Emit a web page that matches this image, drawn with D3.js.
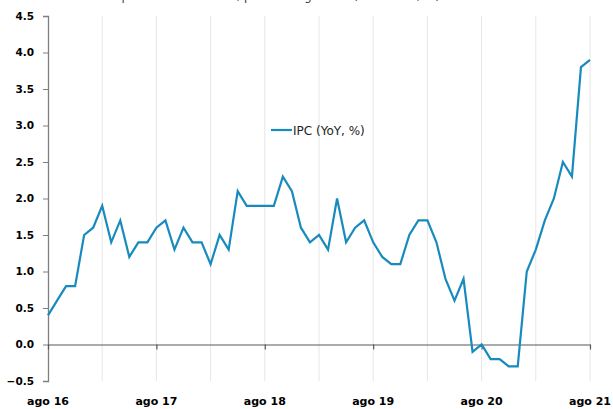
<!DOCTYPE html>
<html>
<head>
<meta charset="utf-8">
<script src="https://cdn.jsdelivr.net/npm/d3@7"></script>
<style>
  html, body { margin: 0; padding: 0; background: #ffffff; }
  svg { display: block; }
</style>
</head>
<body>
<div id="chart"></div>
<script>
// ---- data ----
const startMonth = "2016-08";
const ipcValues = [
  0.4, 0.6, 0.8, 0.8, 1.5, 1.6, 1.9, 1.4, 1.7, 1.2, 1.4, 1.4,
  1.6, 1.7, 1.3, 1.6, 1.4, 1.4, 1.1, 1.5, 1.3, 2.1, 1.9, 1.9,
  1.9, 1.9, 2.3, 2.1, 1.6, 1.4, 1.5, 1.3, 2.0, 1.4, 1.6, 1.7,
  1.4, 1.2, 1.1, 1.1, 1.5, 1.7, 1.7, 1.4, 0.9, 0.6, 0.9, -0.1,
  0.0, -0.2, -0.2, -0.3, -0.3, 1.0, 1.3, 1.7, 2.0, 2.5, 2.3, 3.8,
  3.9
];
const xTickLabels = ["ago 16", "ago 17", "ago 18", "ago 19", "ago 20", "ago 21"];
const xTickIndex = [0, 12, 24, 36, 48, 60];
const gridIndex = [6, 12, 18, 24, 30, 36, 42, 48, 54, 60];
const yTicks = [-0.5, 0.0, 0.5, 1.0, 1.5, 2.0, 2.5, 3.0, 3.5, 4.0, 4.5];
const seriesName = "IPC (YoY, %)";
const titleText = "Alemania: índice de precios al consumo, promedio general (var. anual, %)";

// ---- layout ----
const W = 613, H = 409;
const mLeft = 48, mRight = 590, mTop = 16, mBottom = 381;

const svg = d3.select("#chart").append("svg")
  .attr("width", W).attr("height", H);

const x = d3.scaleLinear().domain([0, 60]).range([mLeft, mRight]);
const y = d3.scaleLinear().domain([-0.5, 4.5]).range([mBottom, mTop]);

const fontBold = "'DejaVu Sans', sans-serif";

// title (cut off at the top edge, as in the reference)
svg.append("text")
  .attr("x", 0).attr("y", -0.5)
  .attr("font-family", "'DejaVu Sans', sans-serif")
  .attr("font-size", 12.5)
  .attr("textLength", 440).attr("lengthAdjust", "spacingAndGlyphs")
  .attr("fill", "#404040")
  .text(titleText);

// vertical gridlines
svg.append("g").selectAll("line").data(gridIndex).join("line")
  .attr("x1", d => x(d)).attr("x2", d => x(d))
  .attr("y1", mTop).attr("y2", mBottom)
  .attr("stroke", "#e6e6e6").attr("stroke-width", 1);

// y axis
const yAxis = d3.axisLeft(y).tickValues(yTicks).tickFormat(d3.format(".1f")).tickSize(5).tickPadding(9);
const gy = svg.append("g").attr("transform", `translate(${mLeft},0)`).call(yAxis);
gy.select(".domain").attr("stroke", "#7f7f7f").attr("stroke-width", 1.3);
gy.selectAll(".tick line").attr("stroke", "#7f7f7f").attr("stroke-width", 1);
gy.selectAll("text")
  .attr("font-family", fontBold).attr("font-weight", "bold")
  .attr("font-size", 10.5).attr("fill", "#000");

// x axis along zero line
const xAxis = d3.axisBottom(x).tickValues(xTickIndex).tickFormat("").tickSize(5).tickSizeOuter(0);
const gx = svg.append("g").attr("transform", `translate(0,${y(0)})`).call(xAxis);
gx.select(".domain").attr("stroke", "#595959").attr("stroke-width", 1.2);
gx.selectAll(".tick line").attr("stroke", "#595959").attr("stroke-width", 1.2);

// x labels at the bottom
svg.append("g").selectAll("text").data(xTickIndex).join("text")
  .attr("x", d => x(d)).attr("y", 405)
  .attr("text-anchor", "middle")
  .attr("font-family", fontBold).attr("font-weight", "bold")
  .attr("font-size", 11).attr("fill", "#000")
  .text((d, i) => xTickLabels[i]);

// line
const line = d3.line().x((d, i) => x(i)).y(d => y(d));
svg.append("path").datum(ipcValues)
  .attr("d", line)
  .attr("fill", "none")
  .attr("stroke", "#178bbd")
  .attr("stroke-width", 2.2)
  .attr("stroke-linejoin", "miter");

// legend
const lg = svg.append("g").attr("transform", "translate(271,130)");
lg.append("line").attr("x1", 0).attr("x2", 21).attr("y1", 0).attr("y2", 0)
  .attr("stroke", "#178bbd").attr("stroke-width", 2.2);
lg.append("text").attr("x", 22).attr("y", 4.5)
  .attr("font-family", "'DejaVu Sans', sans-serif")
  .attr("font-size", 12).attr("fill", "#222")
  .text(seriesName);
</script>
</body>
</html>
